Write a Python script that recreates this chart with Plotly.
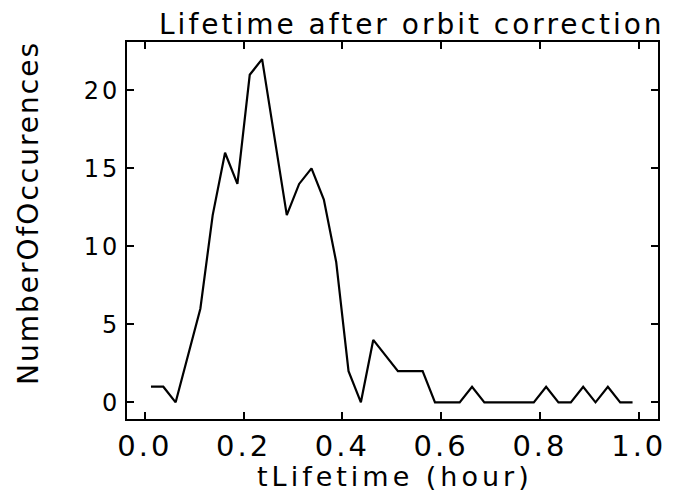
import plotly.graph_objects as go

# Histogram bin centres (hour) and counts
lifetime_hours = [0.0125 + 0.025 * i for i in range(40)]
occurrences = [1, 1, 0, 3, 6, 12, 16, 14, 21, 22,
               17, 12, 14, 15, 13, 9, 2, 0, 4, 3,
               2, 2, 2, 0, 0, 0, 1, 0, 0, 0,
               0, 0, 1, 0, 0, 1, 0, 1, 0, 0]
x_tick_vals = [0.0, 0.2, 0.4, 0.6, 0.8, 1.0]
x_tick_labels = ["0.0", "0.2", "0.4", "0.6", "0.8", "1.0"]
y_tick_vals = [0, 5, 10, 15, 20]
y_tick_labels = ["0", "5", "10", "15", "20"]

title_text = "Lifetime after orbit correction"
x_title = "tLifetime (hour)"
y_title = "NumberOfOccurences"

FONT = "DejaVu Sans"


def spaced(s, px):
    return '<span style="letter-spacing:%dpx">%s</span>' % (px, s)


fig = go.Figure()
fig.add_trace(go.Scatter(
    x=lifetime_hours, y=occurrences, mode="lines",
    line=dict(color="black", width=2.2), showlegend=False, hoverinfo="skip"))

axis_common = dict(
    showgrid=False, zeroline=False, showline=True, linecolor="black",
    linewidth=2, mirror="ticks", ticks="inside", ticklen=7, tickwidth=2,
    tickcolor="black",
)

fig.update_layout(
    width=677, height=496,
    margin=dict(l=127, r=11, t=42, b=77),
    paper_bgcolor="white", plot_bgcolor="white",
    xaxis=dict(range=[-0.036, 1.039], tickvals=x_tick_vals,
               ticktext=[spaced(t, 3) for t in x_tick_labels],
               tickfont=dict(family=FONT, size=29, color="black"),
               **axis_common),
    yaxis=dict(range=[-1.07, 23.1], tickvals=y_tick_vals,
               ticktext=[spaced(t, 3) for t in y_tick_labels],
               tickfont=dict(family=FONT, size=24, color="black"),
               **axis_common),
    annotations=[
        dict(text=spaced(title_text, 3), xref="paper", yref="paper", x=0.537, y=1.0,
             xanchor="center", yanchor="bottom", yshift=-1, showarrow=False,
             font=dict(family=FONT, size=28, color="black")),
        dict(text=spaced(x_title, 4), xref="paper", yref="paper", x=0.505, y=0.0,
             xanchor="center", yanchor="top", yshift=-40, showarrow=False,
             font=dict(family=FONT, size=27, color="black")),
        dict(text=spaced(y_title, 2), xref="paper", yref="paper", x=0.0, y=0.5,
             xanchor="right", yanchor="middle", xshift=-80, yshift=17, textangle=-90,
             showarrow=False, font=dict(family=FONT, size=28, color="black")),
    ],
)

fig.write_html("out.html")
